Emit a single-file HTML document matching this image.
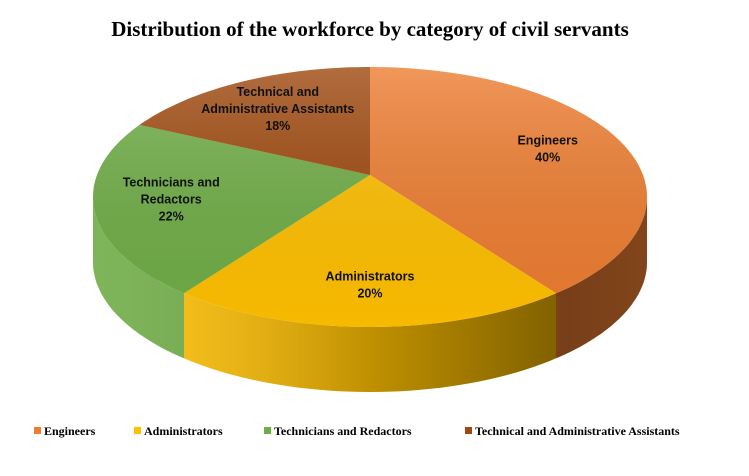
<!DOCTYPE html>
<html><head><meta charset="utf-8"><style>
body{margin:0;background:#fff;}
svg text{font-family:"Liberation Sans",sans-serif;}
</style></head><body>
<svg id="chart" width="749" height="471" xmlns="http://www.w3.org/2000/svg">
<defs>
<linearGradient id="gs" gradientUnits="userSpaceOnUse" x1="93" x2="647" y1="0" y2="0">
<stop offset="0" stop-color="#fff" stop-opacity="0.1"/><stop offset="0.5" stop-color="#000" stop-opacity="0.25"/><stop offset="0.85" stop-color="#000" stop-opacity="0.5"/><stop offset="1" stop-color="#000" stop-opacity="0.45"/>
</linearGradient>
<linearGradient id="gt" gradientUnits="userSpaceOnUse" x1="0" x2="0" y1="68" y2="330">
<stop offset="0" stop-color="#fff" stop-opacity="0.2"/><stop offset="1" stop-color="#000" stop-opacity="0.03"/>
</linearGradient>
</defs>
<text x="370" y="36" text-anchor="middle" font-size="21" font-weight="bold" style="font-family:'Liberation Serif',serif">Distribution of the workforce by category of civil servants</text>
<g id="pie"></g>
<g id="legend"></g>
</svg>
<script>
const categories=["Engineers","Administrators","Technicians and Redactors","Technical and Administrative Assistants"];
const values=[40,20,22,18];
const labelLines=[["Engineers"],["Administrators"],["Technicians and","Redactors"],["Technical and","Administrative Assistants"]];
const colors=["#ED7D31","#FFC000","#70AD47","#9E480E"];
const NS="http://www.w3.org/2000/svg";
const cx=370,cy=197,rx=277,ry=130,vx=370,vy=175,depth=65,kv=128;
function pt(t){return [cx+rx*Math.sin(t),cy-ry*Math.cos(t)];}
// map pie angle to ellipse parameter via ray from vertex
function hit(t){
  const dx=rx*Math.sin(t),dy=-kv*Math.cos(t);
  const ox=(vx-cx)/rx,oy=(vy-cy)/ry,ux=dx/rx,uy=dy/ry;
  const A=ux*ux+uy*uy,B=2*(ox*ux+oy*uy),C=ox*ox+oy*oy-1;
  const s=(-B+Math.sqrt(B*B-4*A*C))/(2*A);
  return [vx+s*dx,vy+s*dy];
}
function toE(t){const p=hit(t);let e=Math.atan2((p[0]-cx)/rx,-(p[1]-cy)/ry);if(e<0)e+=2*Math.PI;if(t>=2*Math.PI-1e-9)e=2*Math.PI;return e;}
const pie=document.getElementById('pie');
const total=values.reduce((a,b)=>a+b,0);
let a=0;const slices=[];
values.forEach((v,i)=>{const a0=a/total*2*Math.PI;a+=v;const a1=a/total*2*Math.PI;slices.push([a0,a1]);});
// sides
slices.forEach(([a0,a1],i)=>{
  const e0=toE(a0),e1=toE(a1);
  const s=Math.max(e0,Math.PI/2),e=Math.min(e1,3*Math.PI/2);
  if(e<=s)return;
  let d="";const N=40;
  for(let k=0;k<=N;k++){const p=pt(s+(e-s)*k/N);d+=(k?"L":"M")+p[0].toFixed(1)+","+p[1].toFixed(1);}
  for(let k=N;k>=0;k--){const p=pt(s+(e-s)*k/N);d+="L"+p[0].toFixed(1)+","+(p[1]+depth).toFixed(1);}
  d+="Z";
  const el=document.createElementNS(NS,'path');el.setAttribute('d',d);el.setAttribute('fill',colors[i]);
  
  
  pie.appendChild(el);
  const sh=document.createElementNS(NS,'path');sh.setAttribute('d',d);sh.setAttribute('fill','url(#gs)');
  
  
  pie.appendChild(sh);
});
// tops
slices.forEach(([a0,a1],i)=>{
  const e0=toE(a0),e1=toE(a1);
  let d="M"+vx+","+vy;const N=60;
  for(let k=0;k<=N;k++){const p=pt(e0+(e1-e0)*k/N);d+="L"+p[0].toFixed(1)+","+p[1].toFixed(1);}
  d+="Z";
  const el=document.createElementNS(NS,'path');el.setAttribute('d',d);el.setAttribute('fill',colors[i]);
  
  
  pie.appendChild(el);
  const g=document.createElementNS(NS,'path');g.setAttribute('d',d);g.setAttribute('fill','url(#gt)');
  
  
  pie.appendChild(g);
  const m=(a0+a1)/2;const f=0.72;const hp=hit(m);
  const lx=vx+(hp[0]-vx)*f, ly=vy+(hp[1]-vy)*f;
  const lines=labelLines[i].concat([values[i]+"%"]);
  const t=document.createElementNS(NS,'text');t.setAttribute('text-anchor','middle');t.setAttribute('font-size','12.5');t.setAttribute('font-weight','bold');t.setAttribute('fill','#111');
  
  
  lines.forEach((ln,k)=>{const ts=document.createElementNS(NS,'tspan');ts.setAttribute('x',lx.toFixed(1));ts.setAttribute('y',(ly-(lines.length-1)*8+k*17+4).toFixed(1));ts.textContent=ln;t.appendChild(ts);});
  pie.appendChild(t);
});
// legend
const lg=document.getElementById('legend');
const lgX=[34,134,264,465];
categories.forEach((c,i)=>{
  const r=document.createElementNS(NS,'rect');r.setAttribute('x',lgX[i]);r.setAttribute('y',427);r.setAttribute('width',7);r.setAttribute('height',7);r.setAttribute('fill',colors[i]);
  
  
  lg.appendChild(r);
  const t=document.createElementNS(NS,'text');t.setAttribute('x',lgX[i]+10);t.setAttribute('y',435);t.setAttribute('font-size','12');t.setAttribute('font-weight','bold');t.setAttribute('style',"font-family:'Liberation Serif',serif");t.textContent=c;
  
  
  lg.appendChild(t);
});
</script>
</body></html>
